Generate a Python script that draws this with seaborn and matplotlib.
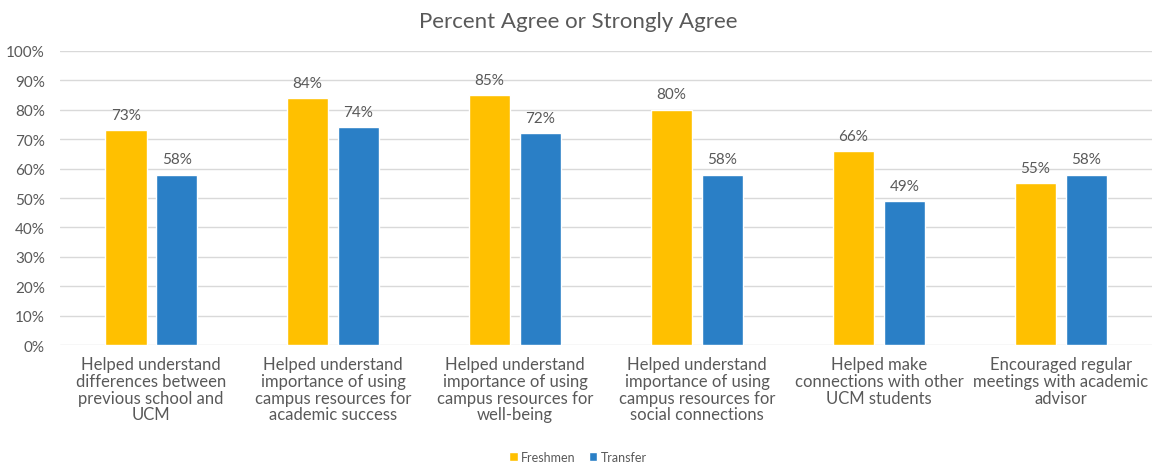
import matplotlib
matplotlib.use("Agg")
import matplotlib.pyplot as plt
import seaborn as sns
import pandas as pd

categories = [
    "Helped understand\ndifferences between\nprevious school and\nUCM",
    "Helped understand\nimportance of using\ncampus resources for\nacademic success",
    "Helped understand\nimportance of using\ncampus resources for\nwell-being",
    "Helped understand\nimportance of using\ncampus resources for\nsocial connections",
    "Helped make\nconnections with other\nUCM students",
    "Encouraged regular\nmeetings with academic\nadvisor",
]
freshmen = [73, 84, 85, 80, 66, 55]
transfer = [58, 74, 72, 58, 49, 58]
series_names = ["Freshmen", "Transfer"]
title = "Percent Agree or Strongly Agree"

df = pd.DataFrame({
    "category": categories * 2,
    "value": freshmen + transfer,
    "group": [series_names[0]] * len(categories) + [series_names[1]] * len(categories),
})

sns.set_theme(style="white")
plt.rcParams["font.family"] = ["Lato", "DejaVu Sans"]
text_color = "#595959"

fig = plt.figure(figsize=(11.56, 4.64), dpi=100)
ax = fig.add_axes([0.052, 0.254, 0.9445, 0.634])

sns.barplot(data=df, x="category", y="value", hue="group",
            palette=["#FFC000", "#2A7FC6"], saturation=1, width=0.56, gap=0.18,
            ax=ax, errorbar=None, legend=True)

ax.set_ylim(0, 100)
ax.set_xlim(-0.5, len(categories) - 0.5)
ax.set_yticks(range(0, 101, 10))
ax.set_yticklabels([f"{v}%" for v in range(0, 101, 10)], color=text_color, fontsize=11)
ax.set_xticks(range(len(categories)))
ax.set_xticklabels(categories, color=text_color, fontsize=12, linespacing=1.05)
ax.tick_params(axis="x", length=0, pad=8)
ax.tick_params(axis="y", length=0, pad=11)
ax.grid(axis="y", color="#d9d9d9", linewidth=1)
ax.set_axisbelow(True)
for s in ax.spines.values():
    s.set_visible(False)
ax.set_xlabel("")
ax.set_ylabel("")

for cont in ax.containers:
    ax.bar_label(cont, labels=[f"{v:.0f}%" for v in cont.datavalues],
                 padding=6, color=text_color, fontsize=11)

fig.text(0.5, 0.952, title, ha="center", va="center", fontsize=16, color=text_color)

handles, labels = ax.get_legend_handles_labels()
ax.legend_.remove()
fig.legend(handles, labels, loc="center", bbox_to_anchor=(0.5, 0.013), ncol=2,
           frameon=False, fontsize=9, labelcolor=text_color,
           handlelength=0.7, handleheight=0.7, handletextpad=0.3, columnspacing=1.0)

fig.savefig("out.png", dpi=100)
